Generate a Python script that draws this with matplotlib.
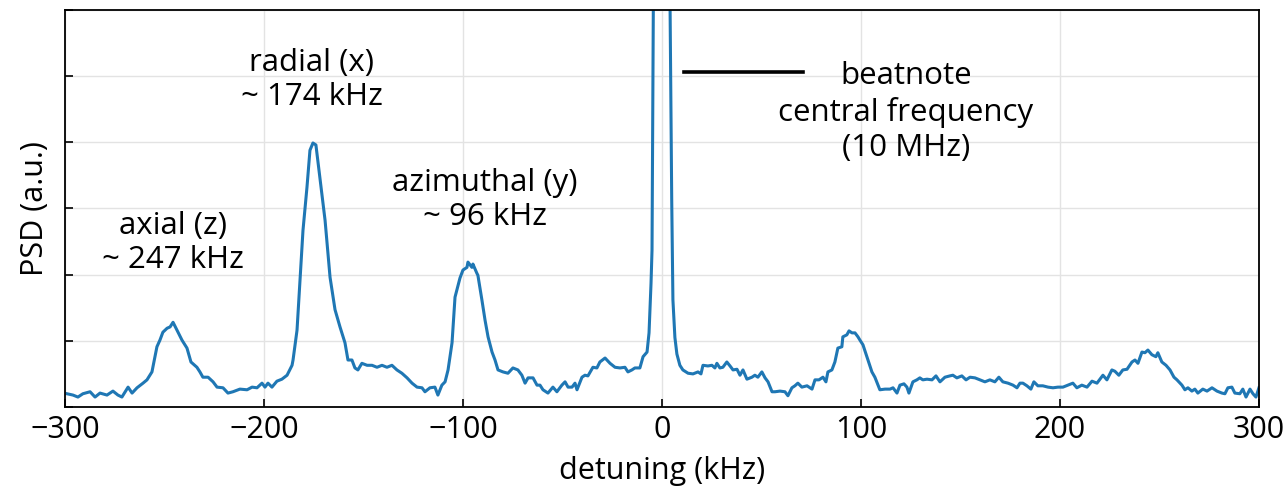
import matplotlib
matplotlib.use("Agg")
import matplotlib.pyplot as plt

plt.rcParams["font.family"] = ["Open Sans", "DejaVu Sans"]

# detuning (kHz) and PSD (a.u.)
detuning = [
    -299.0, -296.0, -293.5, -291.0, -287.4, -284.9, -282.4, -278.9, -275.9, -273.4,
    -271.4, -268.3, -266.3, -263.8, -260.8, -258.8, -256.3, -253.8, -252.3, -250.8,
    -248.7, -247.2, -245.7, -243.7, -241.2, -238.7, -236.7, -233.7, -232.2, -230.7,
    -228.1, -225.6, -223.6, -220.6, -218.1, -215.6, -212.1, -208.5, -206.0, -203.5,
    -201.0, -199.5, -198.0, -196.0, -193.5, -191.0, -188.4, -185.9, -185.4, -183.4,
    -181.9, -180.4, -178.4, -176.9, -175.4, -173.9, -171.9, -169.3, -166.8, -164.3,
    -161.8, -159.3, -157.8, -155.8, -154.3, -152.8, -150.8, -148.2, -145.7, -143.2,
    -140.7, -138.2, -135.7, -133.2, -130.7, -128.1, -125.6, -123.1, -120.6, -119.1,
    -116.6, -114.1, -112.6, -110.6, -109.0, -107.5, -105.5, -104.0, -101.5, -100.0,
    -98.0, -97.5, -95.5, -95.0, -93.0, -92.5, -90.5, -88.9, -87.4, -85.4,
    -83.9, -82.4, -79.9, -77.4, -74.9, -72.4, -70.4, -68.8, -67.3, -64.8,
    -62.8, -61.3, -59.8, -57.3, -54.8, -52.8, -50.3, -48.7, -47.2, -45.2,
    -43.7, -42.7, -40.2, -38.7, -37.2, -34.7, -32.7, -31.2, -28.6, -26.1,
    -23.6, -21.1, -18.6, -17.1, -15.1, -13.6, -11.1, -9.5, -7.5, -6.5,
    -5.5, -5.0, -4.3, 0.0, 4.0, 4.9, 5.5, 6.5, 7.5, 9.0,
    10.5, 13.1, 15.6, 18.1, 19.6, 20.6, 23.1, 25.1, 26.6, 27.6,
    29.1, 30.6, 32.6, 34.2, 35.7, 37.7, 39.2, 40.7, 42.7, 45.2,
    46.7, 48.2, 50.2, 51.8, 53.3, 55.3, 56.8, 59.3, 61.8, 63.3,
    65.3, 66.8, 68.3, 70.3, 72.9, 75.4, 76.9, 78.9, 80.9, 82.4,
    83.4, 85.4, 86.9, 88.4, 90.4, 90.9, 92.9, 94.0, 95.5, 97.0,
    98.5, 99.5, 101.0, 103.0, 105.5, 107.0, 109.5, 112.1, 114.6, 116.1,
    118.1, 119.6, 121.6, 123.1, 124.1, 126.1, 128.1, 129.6, 131.1, 133.2,
    135.7, 137.7, 139.7, 142.2, 144.7, 146.2, 148.2, 150.7, 152.8, 154.8,
    157.3, 159.8, 162.3, 164.8, 167.3, 169.3, 171.3, 173.9, 176.4, 178.4,
    179.9, 181.4, 183.4, 185.4, 186.9, 188.9, 191.4, 194.0, 196.5, 199.0,
    201.5, 204.0, 206.5, 208.5, 211.0, 213.6, 216.1, 218.6, 221.6, 223.6,
    226.1, 227.6, 229.6, 231.6, 233.7, 236.2, 237.7, 239.2, 241.2, 242.7,
    244.2, 246.2, 248.2, 249.2, 251.2, 253.3, 255.3, 257.3, 258.8, 261.3,
    262.8, 264.3, 266.3, 267.8, 269.3, 271.8, 273.9, 276.4, 278.9, 281.4,
    282.9, 284.4, 286.4, 287.9, 290.4, 291.9, 293.5, 295.5, 297.0, 298.5,
    300.0,
]
psd = [
    0.20, 0.18, 0.15, 0.20, 0.23, 0.15, 0.21, 0.18, 0.24, 0.18,
    0.15, 0.30, 0.21, 0.29, 0.36, 0.41, 0.53, 0.91, 1.01, 1.13,
    1.19, 1.21, 1.28, 1.16, 1.01, 0.89, 0.68, 0.60, 0.53, 0.45,
    0.45, 0.38, 0.30, 0.29, 0.21, 0.23, 0.27, 0.26, 0.30, 0.29,
    0.36, 0.30, 0.36, 0.30, 0.39, 0.42, 0.48, 0.63, 0.71, 1.16,
    1.92, 2.67, 3.32, 3.88, 3.99, 3.96, 3.47, 2.82, 1.96, 1.47,
    1.21, 0.97, 0.71, 0.71, 0.59, 0.56, 0.66, 0.63, 0.63, 0.60,
    0.63, 0.60, 0.63, 0.56, 0.51, 0.44, 0.36, 0.30, 0.29, 0.23,
    0.29, 0.30, 0.18, 0.33, 0.38, 0.56, 0.97, 1.66, 1.95, 2.07,
    2.11, 2.19, 2.11, 2.16, 2.02, 1.99, 1.62, 1.31, 1.06, 0.83,
    0.71, 0.56, 0.53, 0.51, 0.59, 0.56, 0.48, 0.36, 0.44, 0.44,
    0.33, 0.33, 0.26, 0.21, 0.30, 0.23, 0.33, 0.38, 0.30, 0.30,
    0.36, 0.26, 0.45, 0.48, 0.47, 0.60, 0.59, 0.68, 0.74, 0.66,
    0.60, 0.59, 0.60, 0.53, 0.56, 0.59, 0.59, 0.76, 0.83, 1.12,
    1.87, 2.37, 6.30, 60.0, 6.30, 3.13, 1.62, 1.05, 0.80, 0.63,
    0.56, 0.51, 0.50, 0.53, 0.50, 0.63, 0.62, 0.63, 0.59, 0.66,
    0.59, 0.60, 0.68, 0.62, 0.56, 0.57, 0.48, 0.56, 0.42, 0.45,
    0.48, 0.45, 0.53, 0.44, 0.38, 0.23, 0.23, 0.24, 0.23, 0.17,
    0.29, 0.32, 0.36, 0.30, 0.32, 0.27, 0.41, 0.41, 0.45, 0.38,
    0.53, 0.56, 0.68, 0.89, 0.91, 1.06, 1.09, 1.15, 1.12, 1.12,
    1.06, 1.01, 0.94, 0.76, 0.53, 0.45, 0.26, 0.27, 0.27, 0.29,
    0.21, 0.33, 0.35, 0.30, 0.21, 0.38, 0.41, 0.44, 0.41, 0.42,
    0.41, 0.47, 0.38, 0.45, 0.47, 0.48, 0.44, 0.47, 0.41, 0.45,
    0.44, 0.41, 0.38, 0.41, 0.38, 0.45, 0.38, 0.36, 0.33, 0.29,
    0.36, 0.36, 0.32, 0.27, 0.38, 0.32, 0.32, 0.30, 0.29, 0.30,
    0.30, 0.33, 0.36, 0.29, 0.33, 0.30, 0.39, 0.36, 0.48, 0.41,
    0.56, 0.54, 0.48, 0.56, 0.57, 0.68, 0.71, 0.66, 0.83, 0.82,
    0.86, 0.79, 0.76, 0.82, 0.68, 0.63, 0.56, 0.45, 0.41, 0.33,
    0.26, 0.29, 0.24, 0.27, 0.21, 0.27, 0.24, 0.29, 0.24, 0.21,
    0.20, 0.29, 0.30, 0.21, 0.20, 0.27, 0.15, 0.27, 0.20, 0.15,
    0.29,
]

xticks = [-300, -200, -100, 0, 100, 200, 300]
xticklabels = ["\u2212300", "\u2212200", "\u2212100", "0", "100", "200", "300"]
yticks = [0, 1, 2, 3, 4, 5, 6]

# peak labels: (text, detuning, psd)
labels = [
    ("axial (z)\n~ 247 kHz", -245.7, 2.48),
    ("radial (x)\n~ 174 kHz", -175.9, 4.94),
    ("azimuthal (y)\n~ 96 kHz", -88.9, 3.13),
]
beat_text = "beatnote\ncentral frequency\n(10 MHz)"
beat_pos = (122.6, 4.46)
beat_line_x = [11.0, 70.9]
beat_line_y = [5.06, 5.06]

fig = plt.figure(figsize=(12.87, 4.86), dpi=100)
ax = fig.add_axes([0.0505, 0.1626, 0.9277, 0.8168])

ax.plot(detuning, psd, color="#1f77b4", lw=2.2)
ax.plot(beat_line_x, beat_line_y, color="k", lw=2.6)

for txt, x, y in labels:
    ax.text(x, y, txt, ha="center", va="center", fontsize=22.5, linespacing=1.2)
ax.text(*beat_pos, beat_text, ha="center", va="center", fontsize=22.5, linespacing=1.25)

ax.set_xlim(-300, 300)
ax.set_ylim(0, 6)
ax.set_xticks(xticks)
ax.set_xticklabels(xticklabels)
ax.set_yticks(yticks)
ax.set_yticklabels([])
ax.tick_params(direction="in", length=6, width=1.2, labelsize=22, pad=6)
ax.grid(True, color="#e3e3e3", lw=1)
for s in ax.spines.values():
    s.set_linewidth(1.3)

ax.set_xlabel("detuning (kHz)", fontsize=22, labelpad=8)
ax.set_ylabel("PSD (a.u.)", fontsize=22, labelpad=5)

fig.savefig("out.png", dpi=100)
